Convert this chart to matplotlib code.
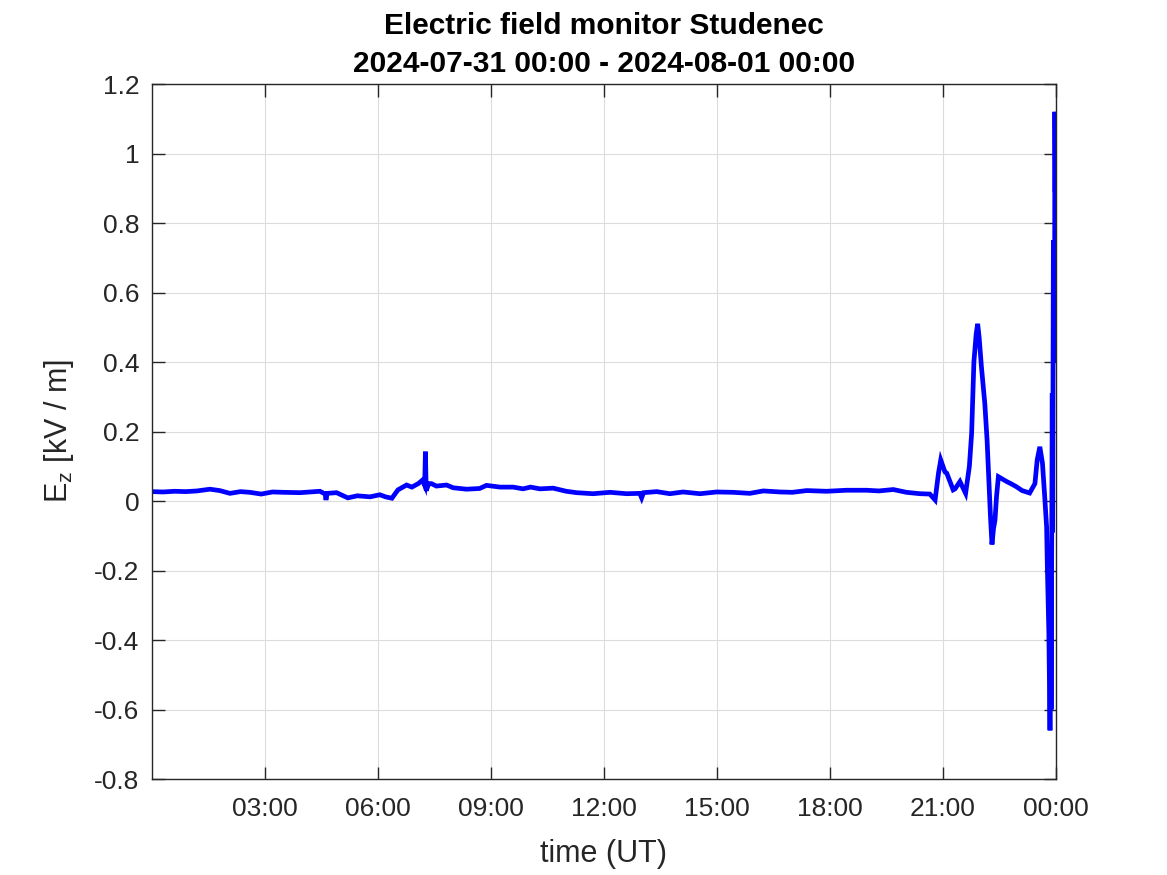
import matplotlib
matplotlib.use("Agg")
import matplotlib.pyplot as plt
import numpy as np

# time in hours since 2024-07-31 00:00 UT, E_z in kV/m
hours = [
    0.00, 0.30, 0.60, 0.90, 1.20, 1.54, 1.80, 2.07, 2.35, 2.60, 2.90, 3.20, 3.50,
    3.93, 4.20, 4.46, 4.60, 4.62, 4.65, 4.90, 5.20, 5.45, 5.79, 6.05, 6.20, 6.37,
    6.53, 6.76, 6.90, 7.07, 7.18, 7.24, 7.26, 7.28, 7.35, 7.42, 7.55, 7.82, 8.00,
    8.35, 8.70, 8.88, 9.24, 9.59, 9.85, 10.05, 10.30, 10.65, 11.00, 11.27, 11.71,
    12.16, 12.60, 12.95, 13.00, 13.05, 13.40, 13.75, 14.10, 14.55, 14.99, 15.43,
    15.87, 16.23, 16.67, 17.00, 17.38, 17.91, 18.44, 18.97, 19.30, 19.68, 20.03,
    20.39, 20.65, 20.79, 20.88, 20.94, 21.05, 21.10, 21.27, 21.32, 21.45, 21.60,
    21.70, 21.76, 21.82, 21.88, 21.92, 21.96, 22.02, 22.11, 22.17, 22.22, 22.26,
    22.30, 22.34, 22.38, 22.42, 22.47, 22.55, 22.69, 22.80, 22.95, 23.10, 23.30,
    23.44, 23.50, 23.57, 23.64, 23.70, 23.75, 23.77, 23.81, 23.84, 23.85, 23.86,
    23.87, 23.88, 23.89, 23.90, 23.91, 23.92, 23.93, 23.94, 23.95, 23.96, 23.97,
    23.98, 23.99, 24.00,
]
ez = [
    0.027, 0.026, 0.028, 0.027, 0.029, 0.034, 0.030, 0.022, 0.027, 0.025, 0.020,
    0.026, 0.025, 0.024, 0.026, 0.028, 0.020, 0.003, 0.022, 0.024, 0.009, 0.015,
    0.012, 0.018, 0.012, 0.008, 0.032, 0.046, 0.040, 0.050, 0.060, 0.045, 0.142,
    0.030, 0.050, 0.050, 0.043, 0.046, 0.038, 0.034, 0.036, 0.045, 0.040, 0.040,
    0.035, 0.040, 0.035, 0.037, 0.028, 0.024, 0.021, 0.025, 0.021, 0.022, 0.009,
    0.024, 0.027, 0.021, 0.026, 0.021, 0.026, 0.025, 0.022, 0.029, 0.026, 0.025,
    0.030, 0.028, 0.031, 0.031, 0.029, 0.033, 0.025, 0.021, 0.020, 0.003, 0.080,
    0.118, 0.084, 0.080, 0.032, 0.035, 0.056, 0.022, 0.100, 0.195, 0.400, 0.480,
    0.510, 0.470, 0.386, 0.280, 0.175, 0.050, -0.045, -0.125, -0.080, -0.055,
    0.012, 0.070, 0.065, 0.056, 0.050, 0.041, 0.030, 0.023, 0.050, 0.118, 0.156,
    0.109, 0.012, -0.074, -0.190, -0.380, -0.660, -0.520, -0.220, -0.600, -0.300,
    -0.080, 0.310, -0.090, 0.300, 0.750, 0.400, 0.730, 0.400, 1.120, 0.890, 1.100,
    0.950,
]
xtick_hours = [3, 6, 9, 12, 15, 18, 21, 24]
xtick_labels = ["03:00", "06:00", "09:00", "12:00", "15:00", "18:00", "21:00", "00:00"]
ytick_values = [-0.8, -0.6, -0.4, -0.2, 0, 0.2, 0.4, 0.6, 0.8, 1.0, 1.2]
ytick_labels = ["-0.8", "-0.6", "-0.4", "-0.2", "0", "0.2", "0.4", "0.6", "0.8", "1", "1.2"]

plt.rcParams['font.family'] = ['Liberation Sans', 'DejaVu Sans']
dark = "#262626"

fig = plt.figure(figsize=(11.67, 8.75), dpi=100)
ax = fig.add_axes([0.1302, 0.1097, 0.7747, 0.7943])
ax.plot(hours, ez, color="#0000ff", linewidth=3.4, solid_joinstyle="miter")
ax.set_xlim(0, 24)
ax.set_ylim(-0.8, 1.2)
ax.set_xticks(xtick_hours)
ax.set_xticklabels(xtick_labels)
ax.set_yticks(ytick_values)
ax.set_yticklabels(ytick_labels)
ax.grid(True, color="#dcdcdc", linewidth=0.8)
ax.set_axisbelow(True)
ax.tick_params(direction="in", length=9, width=1.0, top=True, right=True,
               labelsize=19, colors=dark, pad=9)
ax.tick_params(axis="x", pad=13)
for s in ax.spines.values():
    s.set_color(dark)
    s.set_linewidth(1.0)
ax.set_xlabel("time (UT)", fontsize=22, color=dark, labelpad=13)
ax.set_ylabel(r"E$_\mathregular{z}$ [kV / m]", fontsize=22, color=dark, labelpad=13)
ax.set_title("Electric field monitor Studenec\n2024-07-31 00:00 - 2024-08-01 00:00",
             fontsize=21.5, fontweight="bold", color="black", pad=9, linespacing=1.45)
fig.savefig("out.png", dpi=100, facecolor="white")
